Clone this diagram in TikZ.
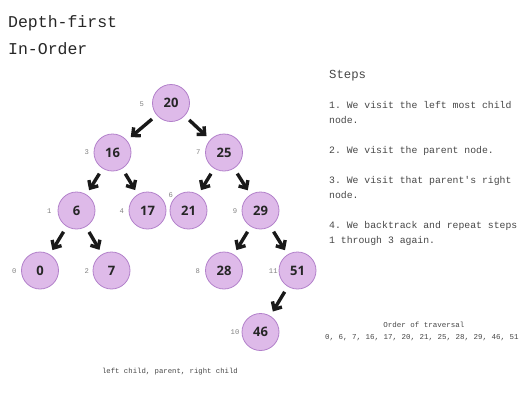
\documentclass[tikz,border=0pt]{standalone}
\usepackage{fontspec}
\setmainfont{Open Sans}
\setmonofont{Liberation Mono}
\usepackage{tikz}
\usetikzlibrary{arrows.meta}

\definecolor{nodefill}{RGB}{222,186,233}
\definecolor{nodedraw}{RGB}{178,128,202}
\definecolor{labelgray}{RGB}{130,130,130}
\definecolor{textgray}{RGB}{70,70,70}

\tikzset{
  treenode/.style={circle,minimum size=37pt,inner sep=0pt,fill=nodefill,draw=nodedraw,
    line width=0.8pt,font=\fontsize{13}{13}\selectfont\bfseries,text=black!85},
  ordlabel/.style={font=\ttfamily\fontsize{7.2}{7.2}\selectfont,text=labelgray,inner sep=0pt},
  treearrow/.style={line width=3.4pt,draw=black!90,-{Straight Barb[length=6pt,width=11pt]},
    shorten <=6pt,shorten >=5pt},
  steptext/.style={anchor=base west,inner sep=0pt,font=\ttfamily\fontsize{9.8}{9.8}\selectfont,text=textgray},
}

\begin{document}
\begin{tikzpicture}[x=1pt,y=-1pt]
  \useasboundingbox (0,0) rectangle (528,408);

  % title
  \node[anchor=base west,inner sep=0pt,font=\ttfamily\fontsize{16.5}{16.5}\selectfont,text=black!85] (title1) at (8,27) {Depth-first};
  \node[anchor=base west,inner sep=0pt,font=\ttfamily\fontsize{16.5}{16.5}\selectfont,text=black!85] (title2) at (8,54) {In-Order};

  % tree
  \node[treenode] (n20) at (171,103) {20};
  \node[treenode] (n16) at (112.5,152.5) {16};
  \node[treenode] (n25) at (224,152.5) {25};
  \node[treenode] (n6)  at (76.5,210.5) {6};
  \node[treenode] (n17) at (147.5,210.5) {17};
  \node[treenode] (n21) at (188.5,210.5) {21};
  \node[treenode] (n29) at (260.5,210.5) {29};
  \node[treenode] (n0)  at (40,270.5) {0};
  \node[treenode] (n7)  at (111.5,270.5) {7};
  \node[treenode] (n28) at (224,270.5) {28};
  \node[treenode] (n51) at (297.5,270.5) {51};
  \node[treenode] (n46) at (260.5,332) {46};

  % visiting order
  \node[ordlabel] (o20) at (141.7,104) {5};
  \node[ordlabel] (o16) at (86.7,152.5) {3};
  \node[ordlabel] (o25) at (198.3,152.5) {7};
  \node[ordlabel] (o6)  at (49.3,211) {1};
  \node[ordlabel] (o17) at (121.7,211) {4};
  \node[ordlabel] (o21) at (170.7,195.5) {6};
  \node[ordlabel] (o29) at (235,211) {9};
  \node[ordlabel] (o0)  at (14.3,271) {0};
  \node[ordlabel] (o7)  at (86.7,271) {2};
  \node[ordlabel] (o28) at (197.7,271) {8};
  \node[ordlabel] (o51) at (273.3,271) {11};
  \node[ordlabel] (o46) at (235,332.5) {10};

  % edges
  \foreach \p/\c in {n20/n16,n20/n25,n16/n6,n16/n17,n25/n21,n25/n29,n6/n0,n6/n7,n29/n28,n29/n51,n51/n46}
    \draw[treearrow] (\p) -- (\c);

  % steps
  \node[anchor=base west,inner sep=0pt,font=\ttfamily\fontsize{12.3}{12.3}\selectfont,text=textgray] (steps) at (329,78.3) {Steps};
  \node[steptext] (s1a) at (329,108.5) {1. We visit the left most child};
  \node[steptext] (s1b) at (329,123.5) {node.};
  \node[steptext] (s2)  at (329,153.3) {2. We visit the parent node.};
  \node[steptext] (s3a) at (329,183.3) {3. We visit that parent's right};
  \node[steptext] (s3b) at (329,198.3) {node.};
  \node[steptext] (s4a) at (329,228.3) {4. We backtrack and repeat steps};
  \node[steptext] (s4b) at (329,243.3) {1 through 3 again.};

  % order of traversal
  \node[anchor=base,inner sep=0pt,font=\ttfamily\fontsize{7.5}{7.5}\selectfont,text=textgray] (ordhead) at (424,327.3) {Order of traversal};
  \node[anchor=base,inner sep=0pt,font=\ttfamily\fontsize{7.5}{7.5}\selectfont,text=textgray] (ordlist) at (422,339.3) {0, 6, 7, 16, 17, 20, 21, 25, 28, 29, 46, 51};

  \node[anchor=base,inner sep=0pt,font=\ttfamily\fontsize{7.3}{7.3}\selectfont,text=textgray] (rule) at (170,373) {left child, parent, right child};
\end{tikzpicture}
\end{document}
